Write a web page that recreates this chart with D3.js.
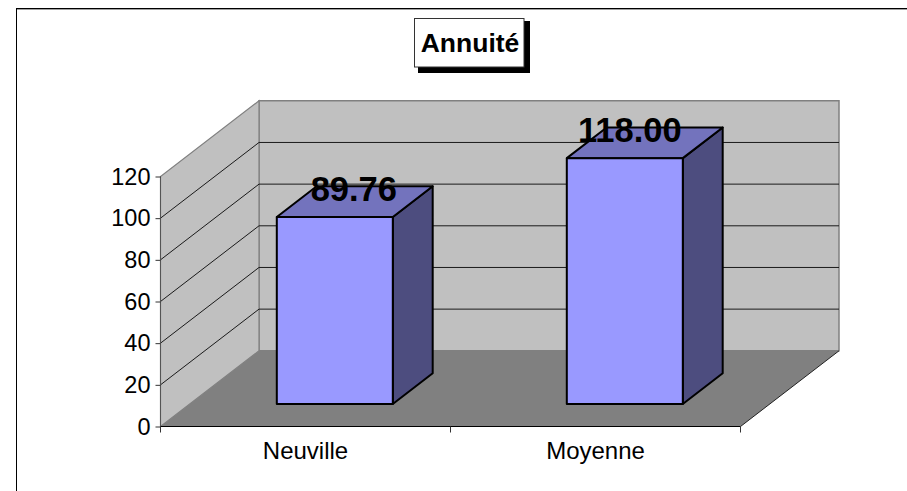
<!DOCTYPE html>
<html>
<head>
<meta charset="utf-8">
<script src="https://cdn.jsdelivr.net/npm/d3@7"></script>
<style>
html,body{margin:0;padding:0;background:#fff;}
svg{display:block;}
text{font-family:"Liberation Sans",Arial,sans-serif;fill:#000;}
</style>
</head>
<body>
<script>
const categories = ["Neuville", "Moyenne"];
const values = [89.76, 118.00];
const valueLabels = ["89.76", "118.00"];
const yTicks = [0, 20, 40, 60, 80, 100, 120];
const titleText = "Annuité";
const labelShift = [19, 5];

const W = 907, H = 491;
const svg = d3.select("body").append("svg").attr("width", W).attr("height", H);

// Scales on the front plane of the 3D box
const x = d3.scaleBand().domain(categories).range([160.5, 740.5]);
const y = d3.scaleLinear().domain([0, 120]).range([426.5, 176.5]);
const depth = {dx: 98.5, dy: -75.7};
const barDepth = 0.405;
const barFrontAt = (1 - barDepth) / 2;
const barW = x.bandwidth() / 2.5;

// d = 0 at front plane, 1 at back wall
const P = (px, py, d = 0) => [px + depth.dx * d, py + depth.dy * d];
const poly = pts => "M" + pts.map(p => p.join(",")).join("L") + "Z";
const seg = (a, b) => "M" + a.join(",") + "L" + b.join(",");

const [x0, x1] = x.range();
const y0 = y(0), yMax = y(120);

// Outer frame
svg.append("line").attr("x1", 16.5).attr("x2", W).attr("y1", 8.5).attr("y2", 8.5).attr("stroke", "#000");
svg.append("line").attr("x1", 16.5).attr("x2", W).attr("y1", 9.5).attr("y2", 9.5).attr("stroke", "#a0a0a0");
svg.append("line").attr("x1", 16.5).attr("x2", 16.5).attr("y1", 8).attr("y2", H).attr("stroke", "#000");

// Walls and floor
const chart = svg.append("g");
chart.append("path").attr("d", poly([P(x0, y0, 1), P(x1, y0, 1), P(x1, yMax, 1), P(x0, yMax, 1)]))
  .attr("fill", "#c0c0c0").attr("stroke", "#808080").attr("stroke-width", 1.5);
chart.append("path").attr("d", poly([P(x0, y0), P(x0, y0, 1), P(x0, yMax, 1), P(x0, yMax)]))
  .attr("fill", "#c0c0c0").attr("stroke", "#808080").attr("stroke-width", 1.2);
chart.append("path").attr("d", poly([P(x0, y0), P(x1, y0), P(x1, y0, 1), P(x0, y0, 1)]))
  .attr("fill", "#808080");

// Gridlines
const gridVals = yTicks.filter(t => t > 0 && t < 120);
chart.selectAll("path.grid").data(gridVals).join("path").attr("class", "grid")
  .attr("d", t => seg(P(x0, y(t)), P(x0, y(t), 1)) + seg(P(x0, y(t), 1), P(x1, y(t), 1)))
  .attr("fill", "none").attr("stroke", "#1a1a1a").attr("stroke-width", 1);

// Floor edges
chart.append("path").attr("d", seg(P(x1, y0), P(x1, y0, 1))).attr("stroke", "#222").attr("fill", "none");

// Axes
const yAxis = d3.axisLeft(y).tickValues(yTicks).tickSize(5).tickPadding(5).tickFormat(d3.format("d"));
const yG = svg.append("g").attr("transform", `translate(${x0},0)`).call(yAxis);
yG.select(".domain").attr("stroke", "#555").attr("d", `M0,${yMax}V${y0}`);
yG.selectAll("line").attr("stroke", "#333");
yG.selectAll("text").attr("font-size", 23.5).attr("font-family", '"Liberation Sans",Arial,sans-serif').attr("fill", "#000");

const xAxis = d3.axisBottom(x).tickSize(0).tickPadding(15);
const xG = svg.append("g").attr("transform", `translate(0,${y0})`).call(xAxis);
xG.select(".domain").attr("stroke", "#000").attr("d", `M${x0},0H${x1}`);
xG.selectAll("text").attr("font-size", 24).attr("font-family", '"Liberation Sans",Arial,sans-serif').attr("fill", "#000");
xG.selectAll("line.edge").data([x0, x.range()[0] + x.step(), x1]).join("line").attr("class", "edge")
  .attr("x1", d => d).attr("x2", d => d).attr("y1", 0).attr("y2", 6).attr("stroke", "#333");

// Bars
const bars = svg.selectAll("g.bar").data(categories.map((c, i) => ({c, v: values[i], label: valueLabels[i], shift: labelShift[i]})))
  .join("g").attr("class", "bar");
const d1 = barFrontAt, d2 = barFrontAt + barDepth;
const barL = d => x(d.c) + (x.bandwidth() - barW) / 2;
const barR = d => barL(d) + barW;
const style = {stroke: "#000", "stroke-width": 2, "stroke-linejoin": "round"};
const applyStyle = sel => { Object.entries(style).forEach(([k, v]) => sel.attr(k, v)); return sel; };

applyStyle(bars.append("path").attr("fill", "#4d4d7f")
  .attr("d", d => poly([P(barR(d), y0, d1), P(barR(d), y0, d2), P(barR(d), y(d.v), d2), P(barR(d), y(d.v), d1)])));
applyStyle(bars.append("path").attr("fill", "#7373bd")
  .attr("d", d => poly([P(barL(d), y(d.v), d1), P(barR(d), y(d.v), d1), P(barR(d), y(d.v), d2), P(barL(d), y(d.v), d2)])));
applyStyle(bars.append("path").attr("fill", "#9999ff")
  .attr("d", d => poly([P(barL(d), y0, d1), P(barR(d), y0, d1), P(barR(d), y(d.v), d1), P(barL(d), y(d.v), d1)])));

bars.append("text")
  .attr("x", d => P((barL(d) + barR(d)) / 2, y(d.v), d1)[0] + d.shift)
  .attr("y", d => P(0, y(d.v), d1)[1] - 16)
  .attr("text-anchor", "middle").attr("font-weight", "bold").attr("font-size", 34.5)
  .text(d => d.label);

// Title box
const tb = svg.append("g");
tb.append("rect").attr("x", 418).attr("y", 21).attr("width", 112).attr("height", 52).attr("fill", "#000");
tb.append("rect").attr("x", 414.5).attr("y", 18.5).attr("width", 109.5).attr("height", 48.5)
  .attr("fill", "#fff").attr("stroke", "#333");
tb.append("text").attr("x", 470).attr("y", 52).attr("text-anchor", "middle")
  .attr("font-weight", "bold").attr("font-size", 26.5).text(titleText);
</script>
</body>
</html>
